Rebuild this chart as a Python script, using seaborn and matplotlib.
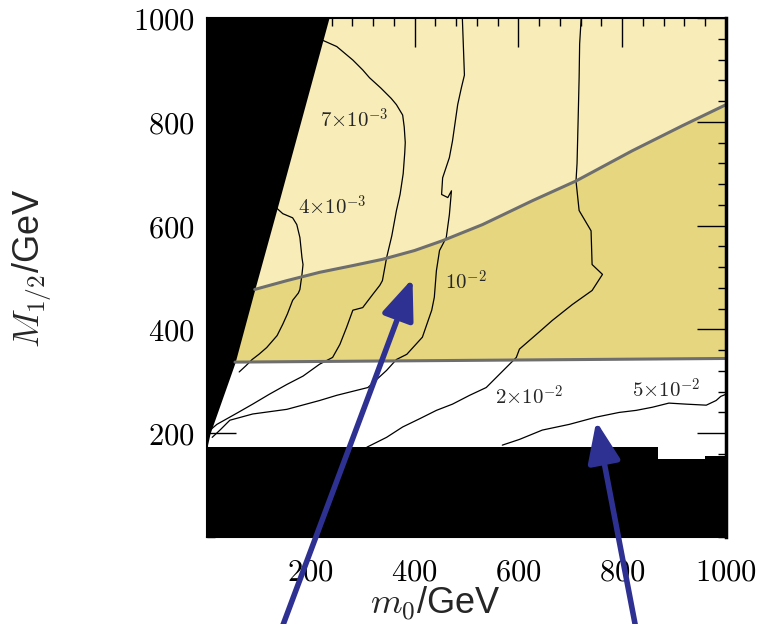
import numpy as np
import matplotlib
matplotlib.use("Agg")
import matplotlib.pyplot as plt
import seaborn as sns
from matplotlib.ticker import FixedLocator, MultipleLocator, FuncFormatter

sns.set_theme(style="ticks")
plt.rcParams["font.family"] = ["Liberation Sans", "DejaVu Sans"]
plt.rcParams["mathtext.fontset"] = "cm"

tick_vals = [200, 400, 600, 800, 1000]

# excluded (black) regions
wall_y = [173, 200, 336, 477, 633, 1000]
wall_x = [0, 6, 54, 92, 135, 235]
floor_x = [0, 869, 869, 960, 960, 1000]
floor_y = [173, 173, 150, 150, 156, 156]

# gray boundary curves
upper_x = [92, 154, 217, 281, 338, 400, 454, 531, 627, 711, 819, 915, 1000]
upper_y = [477, 494, 510, 523, 535, 552, 571, 602, 648, 686, 744, 792, 833]
lower_x = [54, 1000]
lower_y = [337, 344]

# contours
c4e3_x = [135, 146, 165, 173, 179, 183, 185, 183, 179, 176, 165, 155, 146, 135, 115, 100, 87, 75, 62]
c4e3_y = [633, 623, 615, 602, 577, 538, 525, 506, 477, 470, 456, 430, 410, 388, 365, 352, 342, 330, 318]
c7e3_x = [223, 250, 281, 300, 313, 335, 355, 365, 377, 380, 382, 381, 378, 372, 365, 356, 346, 338,
          333, 319, 300, 281, 269, 256, 242, 217, 185, 154, 120, 88, 60, 44, 19, 6]
c7e3_y = [957, 945, 919, 900, 885, 865, 845, 833, 813, 790, 760, 740, 700, 660, 629, 580, 538, 494,
          485, 467, 442, 437, 404, 371, 346, 333, 310, 294, 275, 256, 240, 231, 217, 206]
c1e2_x = [492, 496, 490, 483, 473, 467, 454, 452, 464, 471, 467, 461, 448, 442, 438, 433, 415, 385,
          365, 346, 310, 250, 217, 154, 88, 44, 25, 10]
c1e2_y = [1000, 890, 865, 833, 763, 731, 692, 660, 654, 667, 621, 577, 552, 513, 462, 437, 385, 352,
          342, 321, 288, 273, 263, 246, 237, 225, 206, 192]
c2e2_x = [721, 718, 717, 715, 713, 711, 717, 740, 742, 762, 742, 704, 665, 640, 602, 596, 583, 558,
          538, 506, 473, 442, 410, 377, 346, 308]
c2e2_y = [1000, 950, 885, 800, 720, 686, 629, 590, 525, 506, 475, 448, 417, 395, 362, 346, 333, 308,
          288, 273, 256, 244, 228, 212, 192, 173]
c5e2_x = [569, 602, 646, 698, 750, 794, 827, 858, 890, 923, 962, 981, 990, 1000]
c5e2_y = [177, 188, 206, 217, 231, 240, 244, 250, 258, 256, 254, 263, 271, 275]

contour_labels = [r"$7{\times}10^{-3}$", r"$4{\times}10^{-3}$", r"$10^{-2}$",
                  r"$2{\times}10^{-2}$", r"$5{\times}10^{-2}$"]
label_x = [283, 242, 498, 621, 885]
label_y = [804, 637, 491, 271, 283]

# arrows (tip, tail) in data units
arrow_tip_x = [396, 750]
arrow_tip_y = [498, 223]
arrow_tail_x = [135, 831]
arrow_tail_y = [-200, -200]

light = "#F8EDB8"
dark = "#E5D67F"
gray = "#6E6E6E"
blue = "#2E3192"

fig = plt.figure(figsize=(7.61, 6.24), dpi=100)
ax = fig.add_axes([207 / 761, 87 / 624, 519 / 761, 519 / 624])
ax.set_xlim(0, 1000)
ax.set_ylim(0, 1000)
ax.set_facecolor(light)

# allowed regions
ax.fill_between([0] + lower_x, 0, [lower_y[0]] + lower_y, color="white", lw=0, zorder=0.5)
band_x = [0] + upper_x + [1000, lower_x[0], 0]
band_y = [upper_y[0]] + upper_y + [lower_y[-1], lower_y[0], lower_y[0]]
ax.fill(band_x, band_y, color=dark, lw=0, zorder=0.6)

# contour lines
for cx, cy in [(c4e3_x, c4e3_y), (c7e3_x, c7e3_y), (c1e2_x, c1e2_y),
               (c2e2_x, c2e2_y), (c5e2_x, c5e2_y)]:
    sns.lineplot(x=cx, y=cy, sort=False, estimator=None, color="black", lw=0.9, ax=ax, zorder=1)

# excluded regions
ax.fill_betweenx(wall_y, 0, wall_x, color="black", lw=0, zorder=1.2)
ax.fill_between(floor_x, 0, floor_y, color="black", lw=0, zorder=1.2)

# gray boundaries
sns.lineplot(x=upper_x, y=upper_y, sort=False, estimator=None, color=gray, lw=2.2, ax=ax, zorder=1.5)
sns.lineplot(x=lower_x, y=lower_y, sort=False, estimator=None, color=gray, lw=2.2, ax=ax, zorder=1.5)

for t, lx, ly in zip(contour_labels, label_x, label_y):
    ax.text(lx, ly, t, fontsize=15, ha="center", va="center", zorder=3)

ax.set_axisbelow(False)
ax.xaxis.set_major_locator(FixedLocator(tick_vals))
ax.yaxis.set_major_locator(FixedLocator(tick_vals))
ax.xaxis.set_minor_locator(MultipleLocator(40))
ax.yaxis.set_minor_locator(MultipleLocator(40))
fmt = FuncFormatter(lambda v, p: f"${v:.0f}$")
ax.xaxis.set_major_formatter(fmt)
ax.yaxis.set_major_formatter(fmt)
ax.tick_params(which="both", direction="in", top=True, right=True, colors="black")
ax.tick_params(which="major", length=21, width=1.0, labelsize=22)
ax.tick_params(which="minor", length=6, width=1.0)
ax.tick_params(axis="x", which="major", pad=15)
ax.tick_params(axis="y", which="major", pad=9)
for s in ax.spines.values():
    s.set_color("black")
    s.set_linewidth(1.5)
ax.spines["right"].set_linewidth(2.5)
ax.set_xlabel("")
ax.set_ylabel("")

fig.text(435 / 761, 1 - 604 / 624, r"$m_0$/GeV", fontsize=26, ha="center", va="center")
fig.text(32 / 761, 1 - 268 / 624, r"$M_{1/2}$/GeV", fontsize=26, ha="center", va="center", rotation=90)

for tx, ty, sx, sy in zip(arrow_tip_x, arrow_tip_y, arrow_tail_x, arrow_tail_y):
    ax.annotate("", xy=(tx, ty), xytext=(sx, sy), xycoords="data", textcoords="data",
                annotation_clip=False, zorder=5,
                arrowprops=dict(arrowstyle="-|>,head_length=0.55,head_width=0.22",
                                mutation_scale=45, lw=4, color=blue, shrinkA=0, shrinkB=0))

fig.savefig("out.png", dpi=100)
